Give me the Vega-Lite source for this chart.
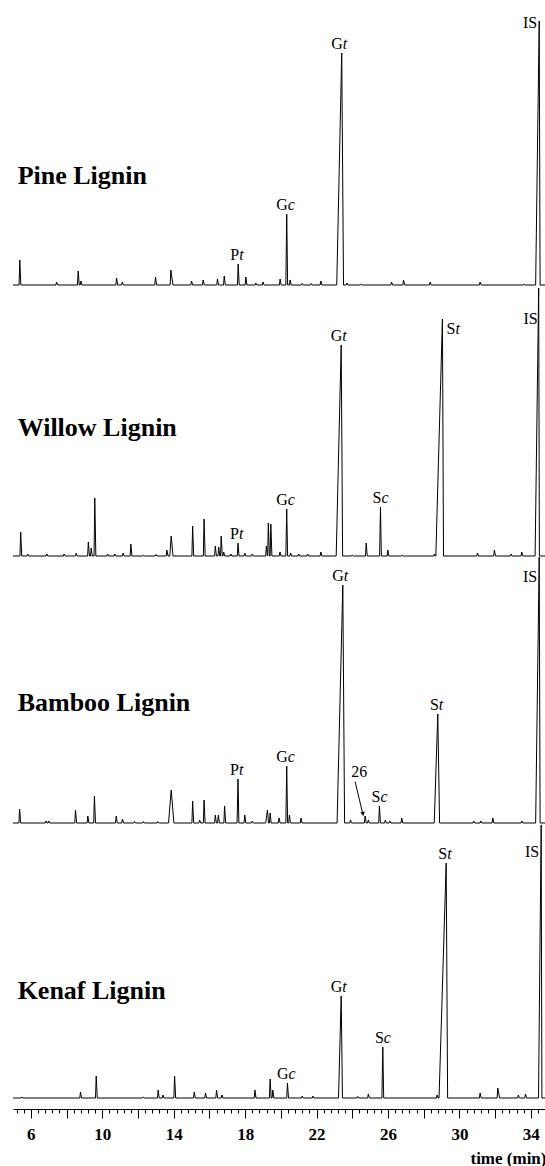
{
"$schema": "https://vega.github.io/schema/vega-lite/v6.json",
"padding": {"left": 11, "top": 0, "right": 1, "bottom": 0},
"spacing": 0,
"bounds": "flush",
"background": "white",
"config": {"view": {"stroke": null}, "font": "Liberation Serif"},
"datasets": {
"ann": [
{"s":"P","k":"is","t":34.47,"v":256.7,"txt":"IS"},
{"s":"W","k":"is","t":34.44,"v":232.4,"txt":"IS"},
{"s":"B","k":"is","t":34.47,"v":241.3,"txt":"IS"},
{"s":"K","k":"is","t":34.58,"v":241.3,"txt":"IS"},
{"s":"P","k":"title","t":5.26,"v":101,"txt":"Pine Lignin"},
{"s":"W","k":"title","t":5.26,"v":120,"txt":"Willow Lignin"},
{"s":"B","k":"title","t":5.26,"v":112.5,"txt":"Bamboo Lignin"},
{"s":"K","k":"title","t":5.26,"v":99,"txt":"Kenaf Lignin"},
{"s":"W","k":"side","t":29.05,"v":222.4,"a":"S","b":"t"},
{"s":"B","k":"num","t":24.39,"v":46.3,"txt":"26"},
{"s":"B","k":"arrow","t":24.16,"v":41.3,"t2":24.58,"v2":10},
{"s":"B","k":"head","t":24.6,"v":9}
],
"c": [
{"s":"P","t":5.0,"v":0},{"s":"P","t":5.34,"v":0},{"s":"P","t":5.38,"v":25},{"s":"P","t":5.44,"v":0},{"s":"P","t":7.40,"v":0},{"s":"P","t":7.44,"v":3},{"s":"P","t":7.50,"v":0},{"s":"P","t":8.61,"v":0},{"s":"P","t":8.65,"v":14},{"s":"P","t":8.71,"v":0},{"s":"P","t":8.76,"v":0},{"s":"P","t":8.80,"v":4},{"s":"P","t":8.86,"v":0},{"s":"P","t":10.76,"v":0},{"s":"P","t":10.80,"v":7},{"s":"P","t":10.86,"v":0},{"s":"P","t":11.08,"v":0},{"s":"P","t":11.12,"v":3},{"s":"P","t":11.18,"v":0},{"s":"P","t":12.94,"v":0},{"s":"P","t":12.98,"v":8},{"s":"P","t":13.04,"v":0},{"s":"P","t":13.80,"v":0},{"s":"P","t":13.84,"v":15},{"s":"P","t":13.96,"v":0},{"s":"P","t":14.96,"v":0},{"s":"P","t":15.00,"v":4},{"s":"P","t":15.06,"v":0},{"s":"P","t":15.61,"v":0},{"s":"P","t":15.65,"v":5},{"s":"P","t":15.71,"v":0},{"s":"P","t":16.41,"v":0},{"s":"P","t":16.45,"v":6},{"s":"P","t":16.51,"v":0},{"s":"P","t":16.79,"v":0},{"s":"P","t":16.83,"v":9},{"s":"P","t":16.89,"v":0},{"s":"P","t":17.57,"v":0},{"s":"P","t":17.61,"v":21,"a":"P","b":"t"},{"s":"P","t":17.67,"v":0},{"s":"P","t":18.00,"v":0},{"s":"P","t":18.04,"v":8},{"s":"P","t":18.10,"v":0},{"s":"P","t":18.56,"v":0},{"s":"P","t":18.60,"v":2},{"s":"P","t":18.66,"v":0},{"s":"P","t":18.96,"v":0},{"s":"P","t":19.00,"v":3},{"s":"P","t":19.06,"v":0},{"s":"P","t":19.92,"v":0},{"s":"P","t":19.96,"v":6},{"s":"P","t":20.02,"v":0},{"s":"P","t":20.28,"v":0},{"s":"P","t":20.33,"v":71,"a":"G","b":"c"},{"s":"P","t":20.38,"v":0},{"s":"P","t":20.48,"v":0},{"s":"P","t":20.52,"v":5},{"s":"P","t":20.58,"v":0},{"s":"P","t":21.16,"v":0},{"s":"P","t":21.20,"v":1.5},{"s":"P","t":21.26,"v":0},{"s":"P","t":21.66,"v":0},{"s":"P","t":21.70,"v":1.5},{"s":"P","t":21.76,"v":0},{"s":"P","t":22.20,"v":0},{"s":"P","t":22.24,"v":4},{"s":"P","t":22.30,"v":0},{"s":"P","t":23.13,"v":0},{"s":"P","t":23.41,"v":232,"a":"G","b":"t"},{"s":"P","t":23.51,"v":0},{"s":"P","t":23.66,"v":0},{"s":"P","t":23.70,"v":2},{"s":"P","t":23.76,"v":0},{"s":"P","t":24.46,"v":0},{"s":"P","t":24.50,"v":1},{"s":"P","t":24.56,"v":0},{"s":"P","t":26.16,"v":0},{"s":"P","t":26.20,"v":3},{"s":"P","t":26.26,"v":0},{"s":"P","t":26.83,"v":0},{"s":"P","t":26.87,"v":5},{"s":"P","t":26.93,"v":0},{"s":"P","t":28.32,"v":0},{"s":"P","t":28.36,"v":3},{"s":"P","t":28.42,"v":0},{"s":"P","t":31.12,"v":0},{"s":"P","t":31.16,"v":3},{"s":"P","t":31.22,"v":0},{"s":"P","t":33.56,"v":0},{"s":"P","t":33.60,"v":1},{"s":"P","t":33.66,"v":0},{"s":"P","t":34.27,"v":0},{"s":"P","t":34.47,"v":264},{"s":"P","t":34.52,"v":0},{"s":"P","t":34.85,"v":0},

{"s":"W","t":5.0,"v":0},{"s":"W","t":5.39,"v":0},{"s":"W","t":5.43,"v":24},{"s":"W","t":5.49,"v":0},{"s":"W","t":5.78,"v":0},{"s":"W","t":5.82,"v":2},{"s":"W","t":5.88,"v":0},{"s":"W","t":6.85,"v":0},{"s":"W","t":6.89,"v":2},{"s":"W","t":6.95,"v":0},{"s":"W","t":7.82,"v":0},{"s":"W","t":7.86,"v":2},{"s":"W","t":7.92,"v":0},{"s":"W","t":8.50,"v":0},{"s":"W","t":8.54,"v":3},{"s":"W","t":8.60,"v":0},{"s":"W","t":9.18,"v":0},{"s":"W","t":9.22,"v":14},{"s":"W","t":9.28,"v":0},{"s":"W","t":9.34,"v":0},{"s":"W","t":9.38,"v":8},{"s":"W","t":9.44,"v":0},{"s":"W","t":9.54,"v":0},{"s":"W","t":9.58,"v":58},{"s":"W","t":9.64,"v":0},{"s":"W","t":10.26,"v":0},{"s":"W","t":10.30,"v":2},{"s":"W","t":10.36,"v":0},{"s":"W","t":10.66,"v":0},{"s":"W","t":10.70,"v":2},{"s":"W","t":10.76,"v":0},{"s":"W","t":11.13,"v":0},{"s":"W","t":11.17,"v":3},{"s":"W","t":11.23,"v":0},{"s":"W","t":11.56,"v":0},{"s":"W","t":11.60,"v":12},{"s":"W","t":11.66,"v":0},{"s":"W","t":12.26,"v":0},{"s":"W","t":12.30,"v":1},{"s":"W","t":12.36,"v":0},{"s":"W","t":12.96,"v":0},{"s":"W","t":13.00,"v":1.5},{"s":"W","t":13.06,"v":0},{"s":"W","t":13.58,"v":0},{"s":"W","t":13.62,"v":6},{"s":"W","t":13.68,"v":0},{"s":"W","t":13.78,"v":0},{"s":"W","t":13.86,"v":20},{"s":"W","t":13.96,"v":0},{"s":"W","t":15.02,"v":0},{"s":"W","t":15.06,"v":30},{"s":"W","t":15.12,"v":0},{"s":"W","t":15.66,"v":0},{"s":"W","t":15.70,"v":37},{"s":"W","t":15.76,"v":0},{"s":"W","t":16.29,"v":0},{"s":"W","t":16.33,"v":10},{"s":"W","t":16.39,"v":0},{"s":"W","t":16.48,"v":0},{"s":"W","t":16.52,"v":9},{"s":"W","t":16.58,"v":0},{"s":"W","t":16.62,"v":0},{"s":"W","t":16.66,"v":20},{"s":"W","t":16.72,"v":0},{"s":"W","t":16.76,"v":0},{"s":"W","t":16.80,"v":4},{"s":"W","t":16.86,"v":0},{"s":"W","t":17.16,"v":0},{"s":"W","t":17.20,"v":2},{"s":"W","t":17.26,"v":0},{"s":"W","t":17.56,"v":0},{"s":"W","t":17.60,"v":13,"a":"P","b":"t"},{"s":"W","t":17.66,"v":0},{"s":"W","t":17.94,"v":0},{"s":"W","t":17.98,"v":3},{"s":"W","t":18.04,"v":0},{"s":"W","t":18.36,"v":0},{"s":"W","t":18.40,"v":2},{"s":"W","t":18.46,"v":0},{"s":"W","t":19.15,"v":0},{"s":"W","t":19.19,"v":10},{"s":"W","t":19.25,"v":0},{"s":"W","t":19.26,"v":0},{"s":"W","t":19.30,"v":33},{"s":"W","t":19.36,"v":0},{"s":"W","t":19.40,"v":0},{"s":"W","t":19.44,"v":32},{"s":"W","t":19.50,"v":0},{"s":"W","t":19.91,"v":0},{"s":"W","t":19.95,"v":4},{"s":"W","t":20.01,"v":0},{"s":"W","t":20.28,"v":0},{"s":"W","t":20.33,"v":47,"a":"G","b":"c"},{"s":"W","t":20.38,"v":0},{"s":"W","t":20.51,"v":0},{"s":"W","t":20.55,"v":3},{"s":"W","t":20.61,"v":0},{"s":"W","t":20.96,"v":0},{"s":"W","t":21.00,"v":2},{"s":"W","t":21.06,"v":0},{"s":"W","t":21.46,"v":0},{"s":"W","t":21.50,"v":2},{"s":"W","t":21.56,"v":0},{"s":"W","t":22.20,"v":0},{"s":"W","t":22.24,"v":4},{"s":"W","t":22.30,"v":0},{"s":"W","t":23.10,"v":0},{"s":"W","t":23.38,"v":211,"a":"G","b":"t"},{"s":"W","t":23.46,"v":0},{"s":"W","t":23.96,"v":0},{"s":"W","t":24.00,"v":1},{"s":"W","t":24.06,"v":0},{"s":"W","t":24.74,"v":0},{"s":"W","t":24.78,"v":13},{"s":"W","t":24.84,"v":0},{"s":"W","t":25.53,"v":0},{"s":"W","t":25.58,"v":49,"a":"S","b":"c"},{"s":"W","t":25.63,"v":0},{"s":"W","t":25.95,"v":0},{"s":"W","t":25.99,"v":6},{"s":"W","t":26.05,"v":0},{"s":"W","t":26.76,"v":0},{"s":"W","t":26.80,"v":1},{"s":"W","t":26.86,"v":0},{"s":"W","t":28.56,"v":0},{"s":"W","t":28.60,"v":2},{"s":"W","t":28.64,"v":0},{"s":"W","t":28.68,"v":0},{"s":"W","t":29.05,"v":237},{"s":"W","t":29.11,"v":0},{"s":"W","t":30.97,"v":0},{"s":"W","t":31.01,"v":3},{"s":"W","t":31.07,"v":0},{"s":"W","t":31.92,"v":0},{"s":"W","t":31.96,"v":6},{"s":"W","t":32.02,"v":0},{"s":"W","t":32.86,"v":0},{"s":"W","t":32.90,"v":2},{"s":"W","t":32.96,"v":0},{"s":"W","t":33.45,"v":0},{"s":"W","t":33.49,"v":4},{"s":"W","t":33.55,"v":0},{"s":"W","t":34.24,"v":0},{"s":"W","t":34.44,"v":268},{"s":"W","t":34.48,"v":0},{"s":"W","t":34.85,"v":0},

{"s":"B","t":5.0,"v":0},{"s":"B","t":5.33,"v":0},{"s":"B","t":5.37,"v":14},{"s":"B","t":5.43,"v":0},{"s":"B","t":6.81,"v":0},{"s":"B","t":6.85,"v":2},{"s":"B","t":6.91,"v":0},{"s":"B","t":6.96,"v":0},{"s":"B","t":7.00,"v":2},{"s":"B","t":7.06,"v":0},{"s":"B","t":8.46,"v":0},{"s":"B","t":8.50,"v":13},{"s":"B","t":8.56,"v":0},{"s":"B","t":9.15,"v":0},{"s":"B","t":9.19,"v":7},{"s":"B","t":9.25,"v":0},{"s":"B","t":9.52,"v":0},{"s":"B","t":9.56,"v":27},{"s":"B","t":9.62,"v":0},{"s":"B","t":10.74,"v":0},{"s":"B","t":10.78,"v":7},{"s":"B","t":10.84,"v":0},{"s":"B","t":11.09,"v":0},{"s":"B","t":11.13,"v":4},{"s":"B","t":11.19,"v":0},{"s":"B","t":11.76,"v":0},{"s":"B","t":11.80,"v":1.5},{"s":"B","t":11.86,"v":0},{"s":"B","t":12.26,"v":0},{"s":"B","t":12.30,"v":1.5},{"s":"B","t":12.36,"v":0},{"s":"B","t":13.06,"v":0},{"s":"B","t":13.10,"v":1.5},{"s":"B","t":13.16,"v":0},{"s":"B","t":13.71,"v":0},{"s":"B","t":13.86,"v":33},{"s":"B","t":14.01,"v":0},{"s":"B","t":15.02,"v":0},{"s":"B","t":15.06,"v":22},{"s":"B","t":15.12,"v":0},{"s":"B","t":15.41,"v":0},{"s":"B","t":15.45,"v":3},{"s":"B","t":15.51,"v":0},{"s":"B","t":15.66,"v":0},{"s":"B","t":15.70,"v":23},{"s":"B","t":15.76,"v":0},{"s":"B","t":16.29,"v":0},{"s":"B","t":16.33,"v":8},{"s":"B","t":16.39,"v":0},{"s":"B","t":16.46,"v":0},{"s":"B","t":16.50,"v":8},{"s":"B","t":16.56,"v":0},{"s":"B","t":16.81,"v":0},{"s":"B","t":16.85,"v":17},{"s":"B","t":16.91,"v":0},{"s":"B","t":17.55,"v":0},{"s":"B","t":17.60,"v":44,"a":"P","b":"t"},{"s":"B","t":17.65,"v":0},{"s":"B","t":17.94,"v":0},{"s":"B","t":17.98,"v":8},{"s":"B","t":18.04,"v":0},{"s":"B","t":18.36,"v":0},{"s":"B","t":18.40,"v":2},{"s":"B","t":18.46,"v":0},{"s":"B","t":19.15,"v":0},{"s":"B","t":19.25,"v":13},{"s":"B","t":19.31,"v":0},{"s":"B","t":19.36,"v":0},{"s":"B","t":19.40,"v":10},{"s":"B","t":19.46,"v":0},{"s":"B","t":19.86,"v":0},{"s":"B","t":19.90,"v":5},{"s":"B","t":19.96,"v":0},{"s":"B","t":20.28,"v":0},{"s":"B","t":20.33,"v":57,"a":"G","b":"c"},{"s":"B","t":20.38,"v":0},{"s":"B","t":20.44,"v":0},{"s":"B","t":20.48,"v":8},{"s":"B","t":20.54,"v":0},{"s":"B","t":21.09,"v":0},{"s":"B","t":21.13,"v":5},{"s":"B","t":21.19,"v":0},{"s":"B","t":23.15,"v":0},{"s":"B","t":23.47,"v":238,"a":"G","b":"t"},{"s":"B","t":23.57,"v":0},{"s":"B","t":23.86,"v":0},{"s":"B","t":23.90,"v":3},{"s":"B","t":23.96,"v":0},{"s":"B","t":24.68,"v":0},{"s":"B","t":24.72,"v":7},{"s":"B","t":24.78,"v":0},{"s":"B","t":24.86,"v":0},{"s":"B","t":24.90,"v":3},{"s":"B","t":24.96,"v":0},{"s":"B","t":25.48,"v":0},{"s":"B","t":25.52,"v":17,"a":"S","b":"c"},{"s":"B","t":25.58,"v":0},{"s":"B","t":25.81,"v":0},{"s":"B","t":25.85,"v":3},{"s":"B","t":25.91,"v":0},{"s":"B","t":26.06,"v":0},{"s":"B","t":26.10,"v":2},{"s":"B","t":26.16,"v":0},{"s":"B","t":26.73,"v":0},{"s":"B","t":26.77,"v":5},{"s":"B","t":26.83,"v":0},{"s":"B","t":28.59,"v":0},{"s":"B","t":28.79,"v":109,"a":"S","b":"t"},{"s":"B","t":28.89,"v":0},{"s":"B","t":30.76,"v":0},{"s":"B","t":30.80,"v":2},{"s":"B","t":30.86,"v":0},{"s":"B","t":31.16,"v":0},{"s":"B","t":31.20,"v":2},{"s":"B","t":31.26,"v":0},{"s":"B","t":31.83,"v":0},{"s":"B","t":31.87,"v":5},{"s":"B","t":31.93,"v":0},{"s":"B","t":33.46,"v":0},{"s":"B","t":33.50,"v":2},{"s":"B","t":33.56,"v":0},{"s":"B","t":34.27,"v":0},{"s":"B","t":34.47,"v":266},{"s":"B","t":34.52,"v":0},{"s":"B","t":34.85,"v":0},

{"s":"K","t":5.0,"v":0},{"s":"K","t":5.46,"v":0},{"s":"K","t":5.50,"v":1},{"s":"K","t":5.56,"v":0},{"s":"K","t":8.74,"v":0},{"s":"K","t":8.78,"v":6},{"s":"K","t":8.84,"v":0},{"s":"K","t":9.62,"v":0},{"s":"K","t":9.66,"v":22},{"s":"K","t":9.72,"v":0},{"s":"K","t":12.26,"v":0},{"s":"K","t":12.30,"v":1},{"s":"K","t":12.36,"v":0},{"s":"K","t":13.09,"v":0},{"s":"K","t":13.13,"v":8},{"s":"K","t":13.19,"v":0},{"s":"K","t":13.36,"v":0},{"s":"K","t":13.40,"v":3},{"s":"K","t":13.46,"v":0},{"s":"K","t":14.01,"v":0},{"s":"K","t":14.05,"v":22},{"s":"K","t":14.11,"v":0},{"s":"K","t":15.11,"v":0},{"s":"K","t":15.15,"v":6},{"s":"K","t":15.21,"v":0},{"s":"K","t":15.74,"v":0},{"s":"K","t":15.78,"v":5},{"s":"K","t":15.84,"v":0},{"s":"K","t":16.36,"v":0},{"s":"K","t":16.40,"v":8},{"s":"K","t":16.46,"v":0},{"s":"K","t":16.66,"v":0},{"s":"K","t":16.70,"v":3},{"s":"K","t":16.76,"v":0},{"s":"K","t":18.51,"v":0},{"s":"K","t":18.55,"v":8},{"s":"K","t":18.61,"v":0},{"s":"K","t":19.36,"v":0},{"s":"K","t":19.40,"v":19},{"s":"K","t":19.46,"v":0},{"s":"K","t":19.51,"v":0},{"s":"K","t":19.55,"v":8},{"s":"K","t":19.61,"v":0},{"s":"K","t":20.33,"v":0},{"s":"K","t":20.37,"v":15,"a":"G","b":"c"},{"s":"K","t":20.43,"v":0},{"s":"K","t":21.16,"v":0},{"s":"K","t":21.20,"v":2},{"s":"K","t":21.26,"v":0},{"s":"K","t":21.76,"v":0},{"s":"K","t":21.80,"v":2},{"s":"K","t":21.86,"v":0},{"s":"K","t":23.23,"v":0},{"s":"K","t":23.38,"v":102,"a":"G","b":"t"},{"s":"K","t":23.45,"v":0},{"s":"K","t":24.26,"v":0},{"s":"K","t":24.30,"v":1.5},{"s":"K","t":24.36,"v":0},{"s":"K","t":24.86,"v":0},{"s":"K","t":24.90,"v":4},{"s":"K","t":24.96,"v":0},{"s":"K","t":25.66,"v":0},{"s":"K","t":25.71,"v":51,"a":"S","b":"c"},{"s":"K","t":25.76,"v":0},{"s":"K","t":28.71,"v":0},{"s":"K","t":28.75,"v":3},{"s":"K","t":28.81,"v":0},{"s":"K","t":28.86,"v":0},{"s":"K","t":29.26,"v":235,"a":"S","b":"t"},{"s":"K","t":29.34,"v":0},{"s":"K","t":31.12,"v":0},{"s":"K","t":31.16,"v":5},{"s":"K","t":31.22,"v":0},{"s":"K","t":32.11,"v":0},{"s":"K","t":32.15,"v":10},{"s":"K","t":32.25,"v":0},{"s":"K","t":33.26,"v":0},{"s":"K","t":33.30,"v":3},{"s":"K","t":33.36,"v":0},{"s":"K","t":33.66,"v":0},{"s":"K","t":33.70,"v":4},{"s":"K","t":33.76,"v":0},{"s":"K","t":34.43,"v":0},{"s":"K","t":34.58,"v":273},{"s":"K","t":34.62,"v":0},{"s":"K","t":34.85,"v":0}
]},
"vconcat": [
{
 "width": 533, "height": 285,
 "layer": [
  {"data": {"name": "c"}, "transform": [{"filter": "datum.s == 'P'"}], "mark": {"type": "line", "color": "black", "strokeWidth": 1},
   "encoding": {"x": {"field": "t", "type": "quantitative", "scale": {"domain": [5, 34.85], "nice": false, "zero": false}, "axis": null}, "y": {"field": "v", "type": "quantitative", "scale": {"domain": [0, 285], "nice": false, "zero": false}, "axis": null}}},
  {"data": {"name": "c"}, "transform": [{"filter": "datum.s == 'P' && datum.a"}], "mark": {"type": "text", "align": "right", "baseline": "alphabetic", "dx": 1, "dy": -4, "fontSize": 16, "color": "black"},
   "encoding": {"x": {"field": "t", "type": "quantitative", "axis": null}, "y": {"field": "v", "type": "quantitative", "axis": null}, "text": {"field": "a"}}},
  {"data": {"name": "c"}, "transform": [{"filter": "datum.s == 'P' && datum.a"}], "mark": {"type": "text", "align": "left", "baseline": "alphabetic", "dx": 1, "dy": -4, "fontSize": 16, "fontStyle": "italic", "color": "black"},
   "encoding": {"x": {"field": "t", "type": "quantitative", "axis": null}, "y": {"field": "v", "type": "quantitative", "axis": null}, "text": {"field": "b"}}},
  {"data": {"name": "ann"}, "transform": [{"filter": "datum.s == 'P' && datum.k == 'is'"}], "mark": {"type": "text", "align": "right", "baseline": "alphabetic", "dx": -2, "fontSize": 16, "color": "black"},
   "encoding": {"x": {"field": "t", "type": "quantitative", "axis": null}, "y": {"field": "v", "type": "quantitative", "axis": null}, "text": {"field": "txt"}}},
  {"data": {"name": "ann"}, "transform": [{"filter": "datum.s == 'P' && datum.k == 'title'"}], "mark": {"type": "text", "align": "left", "baseline": "alphabetic", "fontSize": 26, "fontWeight": "bold", "color": "black"},
   "encoding": {"x": {"field": "t", "type": "quantitative", "axis": null}, "y": {"field": "v", "type": "quantitative", "axis": null}, "text": {"field": "txt"}}}
 ]
},
{
 "width": 533, "height": 271,
 "layer": [
  {"data": {"name": "c"}, "transform": [{"filter": "datum.s == 'W'"}], "mark": {"type": "line", "color": "black", "strokeWidth": 1},
   "encoding": {"x": {"field": "t", "type": "quantitative", "scale": {"domain": [5, 34.85], "nice": false, "zero": false}, "axis": null}, "y": {"field": "v", "type": "quantitative", "scale": {"domain": [0, 271], "nice": false, "zero": false}, "axis": null}}},
  {"data": {"name": "c"}, "transform": [{"filter": "datum.s == 'W' && datum.a"}], "mark": {"type": "text", "align": "right", "baseline": "alphabetic", "dx": 1, "dy": -4, "fontSize": 16, "color": "black"},
   "encoding": {"x": {"field": "t", "type": "quantitative", "axis": null}, "y": {"field": "v", "type": "quantitative", "axis": null}, "text": {"field": "a"}}},
  {"data": {"name": "c"}, "transform": [{"filter": "datum.s == 'W' && datum.a"}], "mark": {"type": "text", "align": "left", "baseline": "alphabetic", "dx": 1, "dy": -4, "fontSize": 16, "fontStyle": "italic", "color": "black"},
   "encoding": {"x": {"field": "t", "type": "quantitative", "axis": null}, "y": {"field": "v", "type": "quantitative", "axis": null}, "text": {"field": "b"}}},
  {"data": {"name": "ann"}, "transform": [{"filter": "datum.s == 'W' && datum.k == 'side'"}], "mark": {"type": "text", "align": "left", "baseline": "alphabetic", "dx": 4, "fontSize": 16, "color": "black"},
   "encoding": {"x": {"field": "t", "type": "quantitative", "axis": null}, "y": {"field": "v", "type": "quantitative", "axis": null}, "text": {"field": "a"}}},
  {"data": {"name": "ann"}, "transform": [{"filter": "datum.s == 'W' && datum.k == 'side'"}], "mark": {"type": "text", "align": "left", "baseline": "alphabetic", "dx": 13, "fontSize": 16, "fontStyle": "italic", "color": "black"},
   "encoding": {"x": {"field": "t", "type": "quantitative", "axis": null}, "y": {"field": "v", "type": "quantitative", "axis": null}, "text": {"field": "b"}}},
  {"data": {"name": "ann"}, "transform": [{"filter": "datum.s == 'W' && datum.k == 'is'"}], "mark": {"type": "text", "align": "right", "baseline": "alphabetic", "dx": -1, "fontSize": 16, "color": "black"},
   "encoding": {"x": {"field": "t", "type": "quantitative", "axis": null}, "y": {"field": "v", "type": "quantitative", "axis": null}, "text": {"field": "txt"}}},
  {"data": {"name": "ann"}, "transform": [{"filter": "datum.s == 'W' && datum.k == 'title'"}], "mark": {"type": "text", "align": "left", "baseline": "alphabetic", "fontSize": 26, "fontWeight": "bold", "color": "black"},
   "encoding": {"x": {"field": "t", "type": "quantitative", "axis": null}, "y": {"field": "v", "type": "quantitative", "axis": null}, "text": {"field": "txt"}}}
 ]
},
{
 "width": 533, "height": 267,
 "layer": [
  {"data": {"name": "c"}, "transform": [{"filter": "datum.s == 'B'"}], "mark": {"type": "line", "color": "black", "strokeWidth": 1},
   "encoding": {"x": {"field": "t", "type": "quantitative", "scale": {"domain": [5, 34.85], "nice": false, "zero": false}, "axis": null}, "y": {"field": "v", "type": "quantitative", "scale": {"domain": [0, 267], "nice": false, "zero": false}, "axis": null}}},
  {"data": {"name": "c"}, "transform": [{"filter": "datum.s == 'B' && datum.a"}], "mark": {"type": "text", "align": "right", "baseline": "alphabetic", "dx": 1, "dy": -4, "fontSize": 16, "color": "black"},
   "encoding": {"x": {"field": "t", "type": "quantitative", "axis": null}, "y": {"field": "v", "type": "quantitative", "axis": null}, "text": {"field": "a"}}},
  {"data": {"name": "c"}, "transform": [{"filter": "datum.s == 'B' && datum.a"}], "mark": {"type": "text", "align": "left", "baseline": "alphabetic", "dx": 1, "dy": -4, "fontSize": 16, "fontStyle": "italic", "color": "black"},
   "encoding": {"x": {"field": "t", "type": "quantitative", "axis": null}, "y": {"field": "v", "type": "quantitative", "axis": null}, "text": {"field": "b"}}},
  {"data": {"name": "ann"}, "transform": [{"filter": "datum.s == 'B' && datum.k == 'num'"}], "mark": {"type": "text", "align": "center", "baseline": "alphabetic", "fontSize": 16, "color": "black"},
   "encoding": {"x": {"field": "t", "type": "quantitative", "axis": null}, "y": {"field": "v", "type": "quantitative", "axis": null}, "text": {"field": "txt"}}},
  {"data": {"name": "ann"}, "transform": [{"filter": "datum.s == 'B' && datum.k == 'arrow'"}], "mark": {"type": "rule", "color": "black", "strokeWidth": 1},
   "encoding": {"x": {"field": "t", "type": "quantitative", "axis": null}, "y": {"field": "v", "type": "quantitative", "axis": null}, "x2": {"field": "t2"}, "y2": {"field": "v2"}}},
  {"data": {"name": "ann"}, "transform": [{"filter": "datum.s == 'B' && datum.k == 'head'"}], "mark": {"type": "point", "shape": "triangle-down", "filled": true, "color": "black", "opacity": 1, "size": 22, "angle": 347},
   "encoding": {"x": {"field": "t", "type": "quantitative", "axis": null}, "y": {"field": "v", "type": "quantitative", "axis": null}}},
  {"data": {"name": "ann"}, "transform": [{"filter": "datum.s == 'B' && datum.k == 'is'"}], "mark": {"type": "text", "align": "right", "baseline": "alphabetic", "dx": -2, "fontSize": 16, "color": "black"},
   "encoding": {"x": {"field": "t", "type": "quantitative", "axis": null}, "y": {"field": "v", "type": "quantitative", "axis": null}, "text": {"field": "txt"}}},
  {"data": {"name": "ann"}, "transform": [{"filter": "datum.s == 'B' && datum.k == 'title'"}], "mark": {"type": "text", "align": "left", "baseline": "alphabetic", "fontSize": 26, "fontWeight": "bold", "color": "black"},
   "encoding": {"x": {"field": "t", "type": "quantitative", "axis": null}, "y": {"field": "v", "type": "quantitative", "axis": null}, "text": {"field": "txt"}}}
 ]
},
{
 "width": 533, "height": 275,
 "resolve": {"axis": {"x": "independent"}},
 "layer": [
  {"data": {"name": "c"}, "transform": [{"filter": "datum.s == 'K'"}], "mark": {"type": "line", "color": "black", "strokeWidth": 1},
   "encoding": {"x": {"field": "t", "type": "quantitative", "scale": {"domain": [5, 34.85], "nice": false, "zero": false},
     "axis": {"orient": "bottom", "values": [5.2,5.6,6,6.4,6.8,7.2,7.6,8,8.4,8.8,9.2,9.6,10,10.4,10.8,11.2,11.6,12,12.4,12.8,13.2,13.6,14,14.4,14.8,15.2,15.6,16,16.4,16.8,17.2,17.6,18,18.4,18.8,19.2,19.6,20,20.4,20.8,21.2,21.6,22,22.4,22.8,23.2,23.6,24,24.4,24.8,25.2,25.6,26,26.4,26.8,27.2,27.6,28,28.4,28.8,29.2,29.6,30,30.4,30.8,31.2,31.6,32,32.4,32.8,33.2,33.6,34,34.4,34.8],
      "tickSize": 4, "labels": false, "title": null, "grid": false, "offset": 11, "domainColor": "black", "domainWidth": 1, "tickColor": "black", "tickWidth": 1}},
    "y": {"field": "v", "type": "quantitative", "scale": {"domain": [0, 275], "nice": false, "zero": false}, "axis": null}}},
  {"data": {"name": "c"}, "transform": [{"filter": "datum.s == 'K' && datum.a"}], "mark": {"type": "text", "align": "right", "baseline": "alphabetic", "dx": 1, "dy": -4, "fontSize": 16, "color": "black"},
   "encoding": {"x": {"field": "t", "type": "quantitative",
     "axis": {"orient": "bottom", "values": [6,8,10,12,14,16,18,20,22,24,26,28,30,32,34], "tickSize": 9, "domain": false, "grid": false, "offset": 11,
      "labelExpr": "datum.value % 4 == 2 ? datum.label : ''", "labelOverlap": false, "labelFlush": false,
      "labelFontSize": 17, "labelFontWeight": "bold", "labelColor": "black", "labelPadding": 8, "labelFont": "Liberation Serif",
      "tickColor": "black", "tickWidth": 1,
      "title": "time (min)", "titleAnchor": "end", "titleFontSize": 17, "titleFontWeight": "bold", "titleColor": "black", "titleFont": "Liberation Serif", "titlePadding": 8}},
    "y": {"field": "v", "type": "quantitative", "axis": null}, "text": {"field": "a"}}},
  {"data": {"name": "c"}, "transform": [{"filter": "datum.s == 'K' && datum.a"}], "mark": {"type": "text", "align": "left", "baseline": "alphabetic", "dx": 1, "dy": -4, "fontSize": 16, "fontStyle": "italic", "color": "black"},
   "encoding": {"x": {"field": "t", "type": "quantitative", "axis": null}, "y": {"field": "v", "type": "quantitative", "axis": null}, "text": {"field": "b"}}},
  {"data": {"name": "ann"}, "transform": [{"filter": "datum.s == 'K' && datum.k == 'is'"}], "mark": {"type": "text", "align": "right", "baseline": "alphabetic", "dx": -2, "fontSize": 16, "color": "black"},
   "encoding": {"x": {"field": "t", "type": "quantitative", "axis": null}, "y": {"field": "v", "type": "quantitative", "axis": null}, "text": {"field": "txt"}}},
  {"data": {"name": "ann"}, "transform": [{"filter": "datum.s == 'K' && datum.k == 'title'"}], "mark": {"type": "text", "align": "left", "baseline": "alphabetic", "fontSize": 26, "fontWeight": "bold", "color": "black"},
   "encoding": {"x": {"field": "t", "type": "quantitative", "axis": null}, "y": {"field": "v", "type": "quantitative", "axis": null}, "text": {"field": "txt"}}}
 ]
}
]
}
